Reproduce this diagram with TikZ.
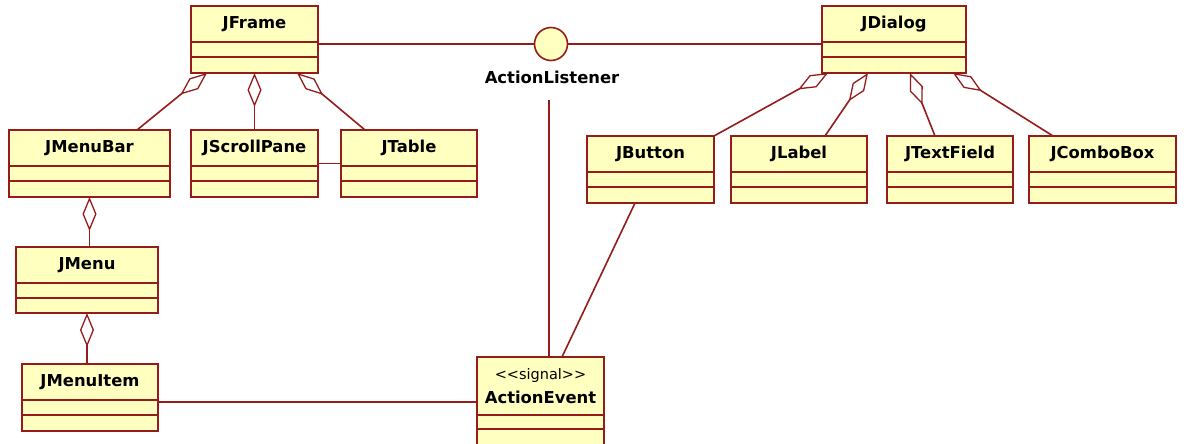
\documentclass[tikz,border=0pt]{standalone}
\usepackage{fontspec}
\setmainfont{DejaVu Sans}
\usetikzlibrary{arrows.meta,calc}
\definecolor{umlred}{RGB}{150,28,28}
\definecolor{umlfill}{RGB}{255,255,192}
\tikzset{
  umlline/.style={draw=umlred, line width=1.6pt},
  classbox/.style={draw=umlred, fill=umlfill, line width=1.6pt, inner sep=0pt, outer sep=0pt, anchor=north west, rectangle},
  classtitle/.style={font=\fontsize{16.4}{19}\selectfont\bfseries, text=black, inner sep=0pt},
  stereo/.style={font=\fontsize{14.5}{17}\selectfont, text=black, inner sep=0pt},
  agg/.style={umlline, {Diamond[open, length=34pt, width=14pt, line width=1.3pt]}-},
  iface/.style={circle, draw=umlred, fill=umlfill, line width=1.6pt, minimum size=33pt, inner sep=0pt, outer sep=0pt}
}
\newcommand\umlcls[6]{%
  \node[classbox, minimum width=#4pt, minimum height=#5pt] (#1) at (#2,#3) {};
  \draw[umlline] ([yshift=-36pt]#1.north west) -- ([yshift=-36pt]#1.north east);
  \draw[umlline] ([yshift=-51pt]#1.north west) -- ([yshift=-51pt]#1.north east);
  \node[classtitle] (#1-t) at ([yshift=-18pt]#1.north) {#6};
}
\begin{document}
\begin{tikzpicture}[x=1pt, y=-1pt]
\useasboundingbox (0,0) rectangle (1186,444);
\clip (0,0) rectangle (1186,444);
\fill[white] (0,0) rectangle (1186,444);

% classes
\umlcls{jframe}{191}{6}{127}{67}{JFrame}
\umlcls{jdialog}{822}{6}{144}{67}{JDialog}
\umlcls{jmenubar}{9}{130}{161}{67}{JMenuBar}
\umlcls{jscroll}{191}{130}{127}{67}{JScrollPane}
\umlcls{jtable}{341}{130}{136}{67}{JTable}
\umlcls{jmenu}{16}{247}{142}{66}{JMenu}
\umlcls{jmenuitem}{22}{364}{136}{67}{JMenuItem}
\umlcls{jbutton}{587}{136}{127}{67}{JButton}
\umlcls{jlabel}{731}{136}{136}{67}{JLabel}
\umlcls{jtextfield}{887}{136}{126}{67}{JTextField}
\umlcls{jcombobox}{1029}{136}{147}{67}{JComboBox}

% signal class
\node[classbox, minimum width=127pt, minimum height=110pt] (actionevent) at (477,357) {};
\draw[umlline] ([yshift=-58pt]actionevent.north west) -- ([yshift=-58pt]actionevent.north east);
\draw[umlline] ([yshift=-72pt]actionevent.north west) -- ([yshift=-72pt]actionevent.north east);
\node[stereo] (ae-s) at ([yshift=-18pt]actionevent.north) {<{}<signal>{}>};
\node[classtitle] (ae-t) at ([yshift=-40pt]actionevent.north) {ActionEvent};

% interface
\node[iface] (al) at (551,44) {};
\node[classtitle] (al-t) at (552,77) {ActionListener};
\coordinate (alend) at (549,100);

% plain associations
\draw[umlline] (jframe.east |- al.west) -- (al.west);
\draw[umlline] (al.east) -- (al.east -| jdialog.west);
\draw[umlline] (alend) -- (alend |- actionevent.north);
\draw[umlline] ([xshift=48pt]jbutton.south west) -- ([xshift=85pt]actionevent.north west);
\draw[umlline] ([yshift=-4.5pt]jmenuitem.east) -- ([yshift=-4.5pt]jmenuitem.east -| actionevent.west);
\draw[umlline] (jscroll.east) -- (jtable.west);

% aggregations
\draw[agg] ([xshift=16pt]jframe.south west) -- ([xshift=128pt]jmenubar.north west);
\draw[agg] (jframe.south) -- (jframe.south |- jscroll.north);
\draw[agg] ([xshift=106pt]jframe.south west) -- ([xshift=24pt]jtable.north west);
\draw[agg] ([xshift=6pt]jdialog.south west) -- (jbutton.north east);
\draw[agg] ([xshift=46pt]jdialog.south west) -- ([xshift=94pt]jlabel.north west);
\draw[agg] ([xshift=88pt]jdialog.south west) -- ([xshift=48pt]jtextfield.north west);
\draw[agg] ([xshift=131pt]jdialog.south west) -- ([xshift=24pt]jcombobox.north west);
\draw[agg] (jmenubar.south) -- (jmenubar.south |- jmenu.north);
\draw[agg] (jmenu.south) -- (jmenu.south |- jmenuitem.north);
\end{tikzpicture}
\end{document}
